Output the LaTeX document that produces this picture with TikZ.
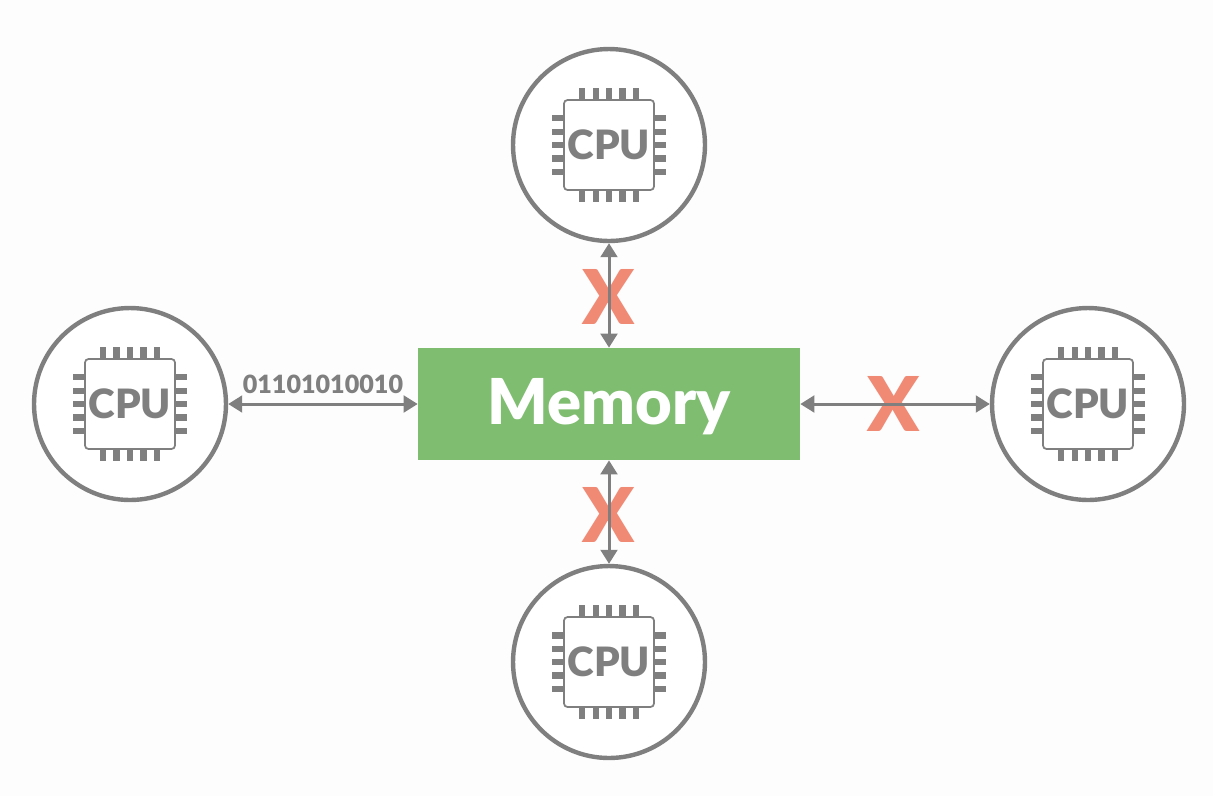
\documentclass[tikz,border=0pt]{standalone}
\usepackage{fontspec}
\usepackage{xcolor}
\setmainfont{Lato}[BoldFont={Lato Black}]
\usetikzlibrary{arrows.meta}
\definecolor{chipGray}{RGB}{127, 127, 127}
\definecolor{memGreen}{RGB}{127, 189, 112}
\definecolor{crossRed}{RGB}{240, 138, 117}
\definecolor{paperWhite}{RGB}{253, 253, 253}
\tikzset{
  cpucircle/.style={draw=chipGray, line width=2.5pt, circle, fill=white, minimum size=3.84cm, inner sep=0pt},
  chipbody/.style={draw=chipGray, line width=1pt, rounded corners=2pt, fill=white, minimum size=1.8cm, inner sep=0pt,
    text=chipGray, font=\bfseries\fontsize{23}{23}\selectfont},
  chippin/.style={chipGray, line width=3.6pt},
  busline/.style={draw=chipGray, line width=1.7pt, {Triangle[length=8pt,width=9.5pt]}-{Triangle[length=8pt,width=9.5pt]}},
  crossmark/.style={text=crossRed, font=\bfseries\fontsize{43}{43}\selectfont, inner sep=0pt},
}
% one CPU: circle, chip body and its five pins on each side
\newcommand{\cpuchip}[3]{
  \node[cpucircle] (#1) at (#2,#3) {};
  \begin{scope}[shift={(#2,#3)}]
    \foreach \p in {-40,-20,0,20,40} {
      \draw[chippin] (\p*0.667,-57) -- (\p*0.667,-45);
      \draw[chippin] (\p*0.667,45) -- (\p*0.667,57);
      \draw[chippin] (-57,\p*0.667) -- (-45,\p*0.667);
      \draw[chippin] (45,\p*0.667) -- (57,\p*0.667);
    }
  \end{scope}
  \node[chipbody] (#1chip) at (#2,#3) {CPU};
}
\begin{document}
\begin{tikzpicture}[x=0.02cm,y=-0.02cm]
  \fill[paperWhite] (0,0) rectangle (1213,796);
  \useasboundingbox (0,0) rectangle (1213,796);

  \cpuchip{cpuTop}{609}{145}
  \cpuchip{cpuLeft}{130}{404}
  \cpuchip{cpuRight}{1088}{404}
  \cpuchip{cpuBottom}{609}{662}

  \node[fill=memGreen, minimum width=7.64cm, minimum height=2.24cm, inner sep=0pt, text=white,
    font=\bfseries\fontsize{36}{36}\selectfont] (memory) at (609,404) {\raisebox{-11.4pt}[0pt][0pt]{Memory}};

  \node[crossmark] (crossTop) at (609,297) {X};
  \node[crossmark] (crossRight) at (894,404) {X};
  \node[crossmark] (crossBottom) at (609,515) {X};

  \draw[busline] (cpuLeft) -- (memory) node[midway, above=3pt, text=chipGray, inner sep=2pt,
    font=\bfseries\fontsize{14.3}{14.3}\selectfont] (bits) {01101010010};
  \draw[busline] (cpuTop) -- (memory);
  \draw[busline] (memory) -- (cpuRight);
  \draw[busline] (memory) -- (cpuBottom);
\end{tikzpicture}
\end{document}
